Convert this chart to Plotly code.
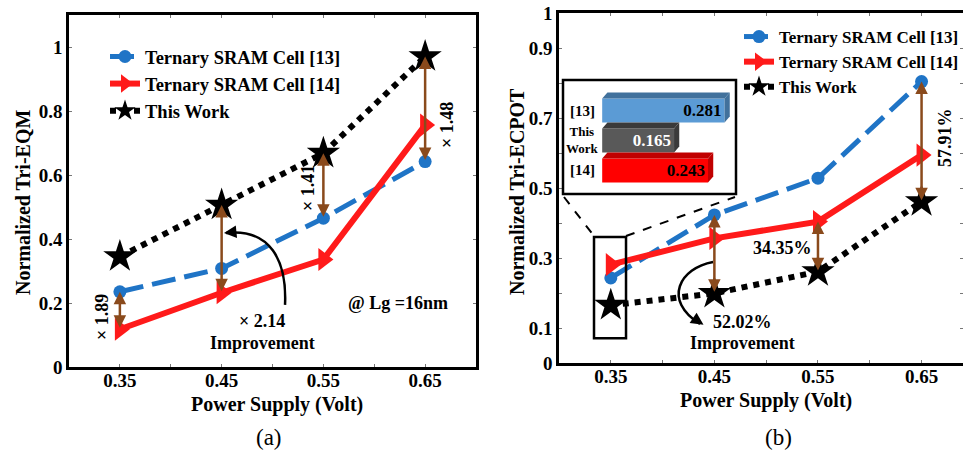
import plotly.graph_objects as go

# ---- data -------------------------------------------------------------
vdd = [0.35, 0.45, 0.55, 0.65]

# (a) normalized Tri-EQM
eqm_13 = [0.235, 0.308, 0.465, 0.642]
eqm_14 = [0.118, 0.232, 0.336, 0.756]
eqm_tw = [0.345, 0.506, 0.668, 0.970]

# (b) normalized Tri-ECPOT
ecpot_13 = [0.243, 0.423, 0.528, 0.804]
ecpot_14 = [0.281, 0.356, 0.404, 0.594]
ecpot_tw = [0.165, 0.199, 0.261, 0.461]

# inset bar values at 0.35 V
inset_labels = ["[13]", "This<br>Work", "[14]"]
inset_values = [0.281, 0.165, 0.243]

x_ticks = [0.35, 0.45, 0.55, 0.65]
a_yticks = [0, 0.2, 0.4, 0.6, 0.8, 1.0]
a_yticktext = ["0", "0.2", "0.4", "0.6", "0.8", "1"]
b_yticks = [0, 0.1, 0.2, 0.3, 0.4, 0.5, 0.6, 0.7, 0.8, 0.9, 1.0]
b_yticktext = ["0", "0.1", "", "0.3", "", "0.5", "", "0.7", "", "0.9", "1"]

# ---- styling ----------------------------------------------------------
FONT = "Liberation Serif"
BLUE = "#1f74c6"
RED = "#ff1a1a"
BLACK = "#000000"
BROWN = "#8a4a1c"
W, H = 963, 450


def px_x(p):
    return p / W


def px_y(p):
    return 1 - p / H


def b(t):
    return f"<b>{t}</b>"


fig = go.Figure()


def add_series(xa, ya, legend, s13, s14, stw):
    fig.add_trace(go.Scatter(
        x=vdd, y=s13, xaxis=xa, yaxis=ya, legend=legend,
        name=b("Ternary SRAM Cell [13]"), mode="lines+markers",
        line=dict(color=BLUE, width=5, dash="24px,9px"),
        marker=dict(symbol="circle", size=13, color=BLUE)))
    fig.add_trace(go.Scatter(
        x=vdd, y=s14, xaxis=xa, yaxis=ya, legend=legend,
        name=b("Ternary SRAM Cell [14]"), mode="lines+markers",
        line=dict(color=RED, width=6),
        marker=dict(symbol="triangle-right", size=20, color=RED)))
    fig.add_trace(go.Scatter(
        x=vdd, y=stw, xaxis=xa, yaxis=ya, legend=legend,
        name=b("This Work"), mode="lines+markers",
        line=dict(color=BLACK, width=6, dash="dot"),
        marker=dict(symbol="star", size=25, color=BLACK)))


add_series("x", "y", "legend", eqm_13, eqm_14, eqm_tw)
add_series("x2", "y2", "legend2", ecpot_13, ecpot_14, ecpot_tw)

# ---- inset: 3D-looking horizontal bars -------------------------------
inset_front = ["#5b9bd5", "#595959", "#ff0000"]
inset_dark = ["#41719c", "#3a3a3a", "#c00000"]
inset_text = ["#000000", "#ffffff", "#000000"]
bar_w = 0.8
fig.add_trace(go.Bar(
    x=inset_values, y=[0, 1, 2], orientation="h", width=bar_w,
    xaxis="x3", yaxis="y3", showlegend=False,
    marker=dict(color=inset_front, line=dict(width=0)),
    text=[b(f"{v:.3f}") for v in inset_values], textposition="inside",
    insidetextanchor="end", constraintext="none",
    textfont=dict(family=FONT, size=17, color=inset_text)))

shapes = []
depth_dx = 0.012   # horizontal depth, in inset data units
depth_px = 6       # vertical depth, in pixels
half_px = 12       # half bar height in pixels
for i, v in enumerate(inset_values):
    # top face
    shapes.append(dict(
        type="path", xref="x3", yref="y3", ysizemode="pixel", yanchor=i,
        path=(f"M 0 {half_px} L {v} {half_px} L {v + depth_dx} {half_px + depth_px} "
              f"L {depth_dx} {half_px + depth_px} Z"),
        fillcolor=inset_dark[i], line=dict(width=0), layer="above"))
    # side face
    shapes.append(dict(
        type="path", xref="x3", yref="y3", ysizemode="pixel", yanchor=i,
        path=(f"M {v} {half_px} L {v + depth_dx} {half_px + depth_px} "
              f"L {v + depth_dx} {-half_px + depth_px} L {v} {-half_px} Z"),
        fillcolor=inset_dark[i], line=dict(width=0), layer="above"))

# inset frame
shapes.append(dict(type="rect", xref="paper", yref="paper",
                   x0=px_x(563), x1=px_x(736), y0=px_y(194), y1=px_y(80),
                   line=dict(color=BLACK, width=2.5)))
# highlight box around the 0.35 V points of (b)
shapes.append(dict(type="rect", xref="x2", yref="y2",
                   x0=0.3338, x1=0.3647, y0=0.071, y1=0.36,
                   line=dict(color=BLACK, width=2.5)))
# zoom guide lines
shapes.append(dict(type="line", xref="paper", yref="paper",
                   x0=px_x(564), y0=px_y(197), x1=px_x(594), y1=px_y(236),
                   line=dict(color=BLACK, width=2, dash="dash")))
shapes.append(dict(type="line", xref="paper", yref="paper",
                   x0=px_x(626), y0=px_y(236), x1=px_x(735), y1=px_y(197),
                   line=dict(color=BLACK, width=2, dash="dash")))

# curved pointer arrows
shapes.append(dict(type="path", xref="x", yref="y",
                   path="M 0.5123 0.194 C 0.5143 0.334 0.4975 0.434 0.4543 0.419",
                   line=dict(color=BLACK, width=2.5)))
shapes.append(dict(type="path", xref="x2", yref="y2",
                   path="M 0.4487 0.2886 C 0.4168 0.2714 0.3994 0.18 0.4361 0.1114",
                   line=dict(color=BLACK, width=2.5)))

annotations = []

# double-headed improvement arrows between series
def dbl_arrow(xa, ya, x, y_top, y_bot):
    annotations.append(dict(
        xref=xa, yref=ya, axref=xa, ayref=ya, x=x, y=y_top, ax=x, ay=y_bot,
        text="", showarrow=True, arrowhead=2, startarrowhead=2,
        arrowside="end+start", arrowsize=1, startarrowsize=1,
        arrowwidth=2.5, arrowcolor=BROWN))


dbl_arrow("x", "y", vdd[0], eqm_13[0], eqm_14[0])
dbl_arrow("x", "y", vdd[1], eqm_tw[1], eqm_14[1])
dbl_arrow("x", "y", vdd[2], eqm_tw[2], eqm_13[2])
dbl_arrow("x", "y", vdd[3], eqm_tw[3], eqm_13[3])
dbl_arrow("x2", "y2", vdd[1], ecpot_13[1], ecpot_tw[1])
dbl_arrow("x2", "y2", vdd[2], ecpot_14[2], ecpot_tw[2])
dbl_arrow("x2", "y2", vdd[3], ecpot_13[3], ecpot_tw[3])

# heads of the curved pointers
annotations.append(dict(xref="x", yref="y", x=0.4523, y=0.419, ax=10, ay=-1,
                        text="", showarrow=True, arrowhead=2, arrowsize=1,
                        arrowwidth=2.5, arrowcolor=BLACK))
annotations.append(dict(xref="x2", yref="y2", x=0.4395, y=0.109, ax=-9, ay=-6,
                        text="", showarrow=True, arrowhead=2, arrowsize=1,
                        arrowwidth=2.5, arrowcolor=BLACK))


def txt(x, y, t, size=18, angle=0, bold=True, xanchor="center"):
    annotations.append(dict(
        xref="paper", yref="paper", x=px_x(x), y=px_y(y),
        text=b(t) if bold else t, showarrow=False, textangle=angle,
        xanchor=xanchor, yanchor="middle",
        font=dict(family=FONT, size=size, color=BLACK)))


# panel (a) labels
txt(102, 317, "× 1.89", angle=-90)
txt(262, 321, "× 2.14")
txt(262, 343, "Improvement")
txt(308, 188, "× 1.41", angle=-90)
txt(447, 125, "× 1.48", angle=-90)
txt(398, 303, "@ Lg =16nm")
txt(277, 404, "Power Supply (Volt)", size=20)
txt(23, 203, "Normalized Tri-EQM", size=20, angle=-90)
txt(269, 437, "(a)", size=23, bold=False)

# panel (b) labels
txt(782, 248, "34.35%")
txt(742, 322, "52.02%")
txt(742, 343, "Improvement")
txt(945, 138, "57.91%", angle=-90)
txt(766, 400, "Power Supply (Volt)", size=20)
txt(517, 192, "Normalized Tri-ECPOT", size=20, angle=-90)
txt(778, 437, "(b)", size=23, bold=False)

# inset category labels
for i, lab in enumerate(inset_labels):
    annotations.append(dict(
        xref="x3", yref="y3", x=-0.045, y=i, text=b(lab), showarrow=False,
        font=dict(family=FONT, size=15 if i != 1 else 13, color=BLACK)))

tick_font = dict(family=FONT, size=19, color=BLACK)
common_x = dict(
    tickvals=x_ticks, ticktext=[b(f"{v:.2f}") for v in x_ticks],
    ticks="inside", ticklen=3, tickcolor="#777", tickwidth=1,
    ticklabelstandoff=-6,
    minor=dict(dtick=0.1, tick0=0.3, ticks="inside", ticklen=3,
               tickcolor="#777", tickwidth=1),
    showline=True, linecolor=BLACK, linewidth=2.5, mirror="allticks",
    showgrid=False, zeroline=False, tickfont=tick_font)

fig.update_layout(
    width=W, height=H,
    margin=dict(l=0, r=0, t=0, b=0, autoexpand=False),
    paper_bgcolor="white", plot_bgcolor="rgba(0,0,0,0)",
    font=dict(family=FONT, color=BLACK),
    xaxis=dict(domain=[px_x(69), px_x(476)], range=[0.3, 0.7], anchor="y",
               **common_x),
    yaxis=dict(domain=[px_y(367), px_y(15)], range=[0, 1.1], anchor="x",
               tickvals=a_yticks, ticktext=[b(t) for t in a_yticktext],
               ticks="inside", ticklen=3, tickcolor="#777", tickwidth=1,
               showline=True, linecolor=BLACK, linewidth=2.5,
               mirror="allticks", showgrid=False, zeroline=False,
               tickfont=tick_font),
    xaxis2=dict(domain=[px_x(559), 1.0], range=[0.3, 0.69], anchor="y2",
                **common_x),
    yaxis2=dict(domain=[px_y(363), px_y(13)], range=[0, 1.0], anchor="x2",
                tickvals=b_yticks,
                ticktext=[b(t) if t else "" for t in b_yticktext],
                ticks="inside", ticklen=3, tickcolor="#777", tickwidth=1,
                showline=True, linecolor=BLACK, linewidth=2.5,
                mirror="allticks", showgrid=False, zeroline=False,
                tickfont=tick_font),
    xaxis3=dict(domain=[px_x(563), px_x(735)], range=[-0.09, 0.305],
                anchor="y3", visible=False, fixedrange=True),
    yaxis3=dict(domain=[px_y(192), px_y(82)], range=[2.717, -0.95],
                anchor="x3", visible=False, fixedrange=True),
    legend=dict(x=px_x(105), y=px_y(38), xanchor="left", yanchor="top",
                bgcolor="rgba(0,0,0,0)", tracegroupgap=0,
                font=dict(family=FONT, size=18.5, color=BLACK)),
    legend2=dict(x=px_x(739), y=px_y(19), xanchor="left", yanchor="top",
                 bgcolor="rgba(0,0,0,0)", tracegroupgap=0,
                 font=dict(family=FONT, size=17, color=BLACK)),
    shapes=shapes, annotations=annotations, bargap=0.2,
)

fig.write_html("out.html")
